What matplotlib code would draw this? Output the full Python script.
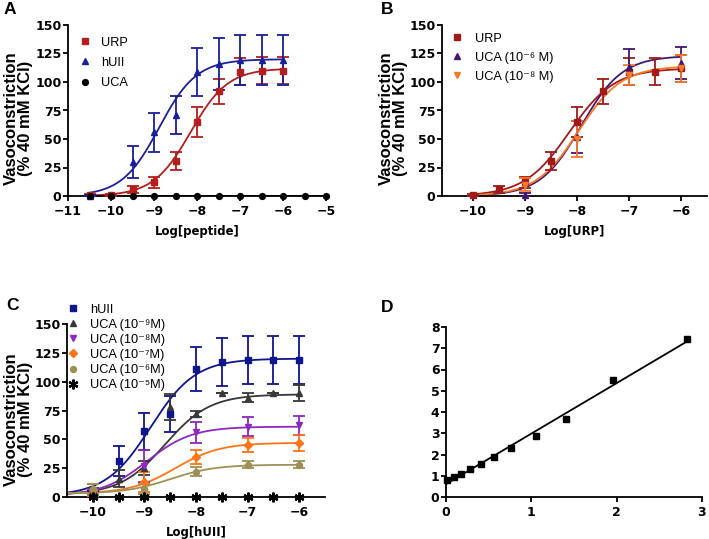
import numpy as np
import matplotlib
matplotlib.use("Agg")
import matplotlib.pyplot as plt

plt.rcParams['font.family'] = ['DejaVu Sans']
plt.rcParams['font.weight'] = 'bold'
plt.rcParams['axes.unicode_minus'] = True

# ---------------- Panel A data ----------------
A_x_urp = [-10.5, -10, -9.5, -9, -8.5, -8, -7.5, -7, -6.5, -6]
A_urp = [0.5, 1, 6, 12, 31, 65, 92, 109, 110, 110]
A_urp_err = [1, 1, 3, 5, 8, 13, 11, 12, 12, 12]
A_x_huii = [-10.5, -9.5, -9, -8.5, -8, -7.5, -7, -6.5, -6]
A_huii = [0, 30, 56, 71, 109, 116, 119, 119, 119]
A_huii_err = [1, 14, 17, 17, 21, 23, 22, 22, 22]
A_x_uca = [-10.5, -10, -9.5, -9, -8.5, -8, -7.5, -7, -6.5, -6, -5.5, -5]
A_uca = [0, 0, 0, 0, 0, 0, 0, 0, 0, 0, 0, 0]
# fitted curves: bottom, top, logEC50, hill
A_urp_fit = [0, 112, -8.15, 1.0]
A_huii_fit = [0, 120, -8.88, 1.0]

# ---------------- Panel B data ----------------
B_x_urp = [-10, -9.5, -9, -8.5, -8, -7.5, -7, -6.5, -6]
B_urp = [1, 6, 12, 31, 65, 92, 109, 109, 112]
B_urp_err = [1, 3, 5, 8, 13, 11, 12, 12, 12]
B_x_uca = [-9, -8, -7, -6]
B_uca6 = [1, 52, 113, 117]
B_uca6_err = [2, 14, 16, 14]
B_uca8 = [10, 50, 106, 112]
B_uca8_err = [6, 16, 9, 12]
B_urp_fit = [0, 112, -8.15, 1.0]
B_uca6_fit = [0, 123, -7.92, 1.1]
B_uca8_fit = [0, 114, -7.97, 1.05]

# ---------------- Panel C data ----------------
C_x_huii = [-10, -9.5, -9, -8.5, -8, -7.5, -7, -6.5, -6]
C_huii = [3, 31, 57, 72, 111, 117, 119, 119, 119]
C_huii_err = [2, 13, 16, 16, 19, 21, 21, 21, 21]
C_x_uca9 = [-10, -9.5, -9, -8.5, -8, -7.5, -7, -6.5, -6]
C_uca9 = [5, 16, 25, 78, 72, 90, 86, 90, 90]
C_uca9_err = [3, 7, 6, 11, 3, 0, 4, 0, 7]
C_x_uca = [-10, -9, -8, -7, -6]
C_uca8 = [4, 27, 56, 61, 62]
C_uca8_err = [3, 14, 9, 8, 8]
C_uca7 = [6, 13, 35, 45, 47]
C_uca7_err = [5, 9, 6, 6, 7]
C_uca6 = [7, 7, 22, 28, 28]
C_uca6_err = [4, 4, 4, 3, 3]
C_x_uca5 = [-10, -9.5, -9, -8.5, -8, -7.5, -7, -6.5, -6]
C_uca5 = [0, 0, 0, 0, 0, 0, 0, 0, 0]
C_huii_fit = [1, 120, -8.88, 1.0]
C_uca9_fit = [2, 89, -8.6, 1.0]
C_uca8_fit = [1, 61, -8.95, 1.0]
C_uca7_fit = [3, 47, -8.4, 1.0]
C_uca6_fit = [3, 28, -8.5, 1.0]

# ---------------- Panel D data ----------------
D_x = [0.01, 0.09, 0.18, 0.28, 0.41, 0.56, 0.76, 1.05, 1.41, 1.96, 2.83]
D_y = [0.78, 0.94, 1.10, 1.32, 1.57, 1.87, 2.32, 2.85, 3.65, 5.49, 7.45]

W, H = 709, 539
fig = plt.figure(figsize=(W / 100, H / 100), dpi=100)

TICK_FS = 9.0
XLAB_FS = 8.4
YLAB_FS = 12.0
LEG_FAM = ['Liberation Sans', 'DejaVu Sans']


def leg_prop(size):
    return {'family': LEG_FAM, 'size': size, 'weight': 'normal'}


def ax_at(left, top, right, bottom):
    return fig.add_axes([left / W, 1 - bottom / H, (right - left) / W, (bottom - top) / H])


def sig(x, p):
    b, t, ec, h = p
    return b + (t - b) / (1 + 10 ** ((ec - x) * h))


def style(ax):
    for s in ['top', 'right']:
        ax.spines[s].set_visible(False)
    for s in ['left', 'bottom']:
        ax.spines[s].set_linewidth(1.3)
    ax.tick_params(width=1.3, length=3.5, labelsize=TICK_FS)
    ax.tick_params(axis='x', pad=3)
    ax.tick_params(axis='y', pad=1.2)
    for lab in ax.get_xticklabels() + ax.get_yticklabels():
        lab.set_fontweight('bold')


def series(ax, x, y, e, color, marker, ms, label, fit=None, xr=None, mew=1.0):
    if fit is not None:
        xs = np.linspace(xr[0], xr[1], 300)
        ax.plot(xs, sig(xs, fit), color=color, lw=1.3, zorder=2)
    if e is not None:
        ax.errorbar(x, y, yerr=e, fmt='none', ecolor=color, elinewidth=1.3,
                    capsize=4.5, capthick=1.3, zorder=3)
    ax.plot(x, y, linestyle='none', marker=marker, color=color, ms=ms, mew=mew,
            label=label, zorder=4, clip_on=False)


def labels(ax, xl, xright, ycenter):
    if xl:
        ax.set_xlabel(xl, fontsize=XLAB_FS, fontweight='bold', labelpad=5)
    ax.set_ylabel('Vasoconstriction\n(% 40 mM KCl)', fontsize=YLAB_FS, fontweight='bold',
                  family='Liberation Sans', linespacing=0.92)
    ax.yaxis.set_label_coords(xright, ycenter)


# ---------------- A ----------------
axA = ax_at(68, 25, 326, 196)
series(axA, A_x_urp, A_urp, A_urp_err, '#b41e1e', 's', 4.3, 'URP', A_urp_fit, (-10.5, -6))
series(axA, A_x_huii, A_huii, A_huii_err, '#1a1f9a', '^', 4.6, 'hUII', A_huii_fit, (-10.5, -6))
axA.plot(A_x_uca, A_uca, color='black', lw=1.3, zorder=2)
series(axA, A_x_uca, A_uca, None, 'black', 'o', 4.2, 'UCA')
axA.set_xlim(-11, -5)
axA.set_ylim(0, 150)
axA.set_xticks(range(-11, -4))
axA.set_yticks(range(0, 151, 25))
style(axA)
labels(axA, 'Log[peptide]', -0.136, 0.455)
axA.legend(loc='upper left', bbox_to_anchor=(0.048, 0.932), frameon=False, borderpad=0,
           borderaxespad=0, handlelength=0.7, handletextpad=0.95, labelspacing=0.65,
           prop=leg_prop(9.2))

# ---------------- B ----------------
axB = ax_at(442, 25, 707, 196)
series(axB, B_x_urp, B_urp, B_urp_err, '#a01a1a', 's', 4.3, 'URP', B_urp_fit, (-10, -6))
series(axB, B_x_uca, B_uca6, B_uca6_err, '#42186e', '^', 4.6, 'UCA (10⁻⁶ M)', B_uca6_fit, (-10, -6))
series(axB, B_x_uca, B_uca8, B_uca8_err, '#f7792a', 'v', 4.6, 'UCA (10⁻⁸ M)', B_uca8_fit, (-10, -6))
axB.set_xlim(-10.6, -5.5)
axB.set_ylim(0, 150)
axB.set_xticks(range(-10, -5))
axB.set_yticks(range(0, 151, 25))
style(axB)
labels(axB, 'Log[URP]', -0.128, 0.455)
axB.legend(loc='upper left', bbox_to_anchor=(0.04, 0.955), frameon=False, borderpad=0,
           borderaxespad=0, handlelength=0.7, handletextpad=1.05, labelspacing=0.55,
           prop=leg_prop(9.2))

# ---------------- C ----------------
axC = ax_at(67, 324, 325, 497)
series(axC, C_x_huii, C_huii, C_huii_err, '#0f158c', 's', 4.3, 'hUII', C_huii_fit, (-10.5, -6))
series(axC, C_x_uca9, C_uca9, C_uca9_err, '#383838', '^', 4.6, 'UCA (10⁻⁹M)', C_uca9_fit, (-10.5, -6))
series(axC, C_x_uca, C_uca8, C_uca8_err, '#8e28c0', 'v', 4.6, 'UCA (10⁻⁸M)', C_uca8_fit, (-10.5, -6))
series(axC, C_x_uca, C_uca7, C_uca7_err, '#ff7419', 'D', 3.8, 'UCA (10⁻⁷M)', C_uca7_fit, (-10.5, -6))
series(axC, C_x_uca, C_uca6, C_uca6_err, '#9c9155', 'o', 4.3, 'UCA (10⁻⁶M)', C_uca6_fit, (-10.5, -6))
series(axC, C_x_uca5, C_uca5, None, 'black', (6, 2, 0), 7, 'UCA (10⁻⁵M)', mew=1.6)
axC.set_xlim(-10.5, -5.5)
axC.set_ylim(0, 150)
axC.set_xticks(range(-10, -5))
axC.set_yticks(range(0, 151, 25))
style(axC)
labels(axC, 'Log[hUII]', -0.132, 0.45)
axC.legend(loc='upper left', bbox_to_anchor=(0.006, 1.117), frameon=False, borderpad=0,
           borderaxespad=0, handlelength=0.7, handletextpad=1.0, labelspacing=0.24,
           prop=leg_prop(9.2))

# ---------------- D ----------------
axD = ax_at(446, 327, 702, 497)
coef = np.polyfit(D_x, D_y, 1)
xs = np.linspace(0, max(D_x), 50)
axD.plot(xs, np.polyval(coef, xs), color='black', lw=1.3, zorder=2)
axD.plot(D_x, D_y, 's', color='black', ms=4.5, zorder=3, clip_on=False)
axD.set_xlim(0, 3)
axD.set_ylim(0, 8)
axD.set_xticks([0, 1, 2, 3])
axD.set_yticks(range(0, 9))
style(axD)

# panel letters
for t, x, y in [('A', 4, 2), ('B', 381, 2), ('C', 6, 298), ('D', 381, 300)]:
    fig.text(x / W, 1 - y / H, t, fontsize=12.5, fontweight='bold', va='top', ha='left',
             family='Liberation Sans')

fig.savefig('out.png', dpi=100)
